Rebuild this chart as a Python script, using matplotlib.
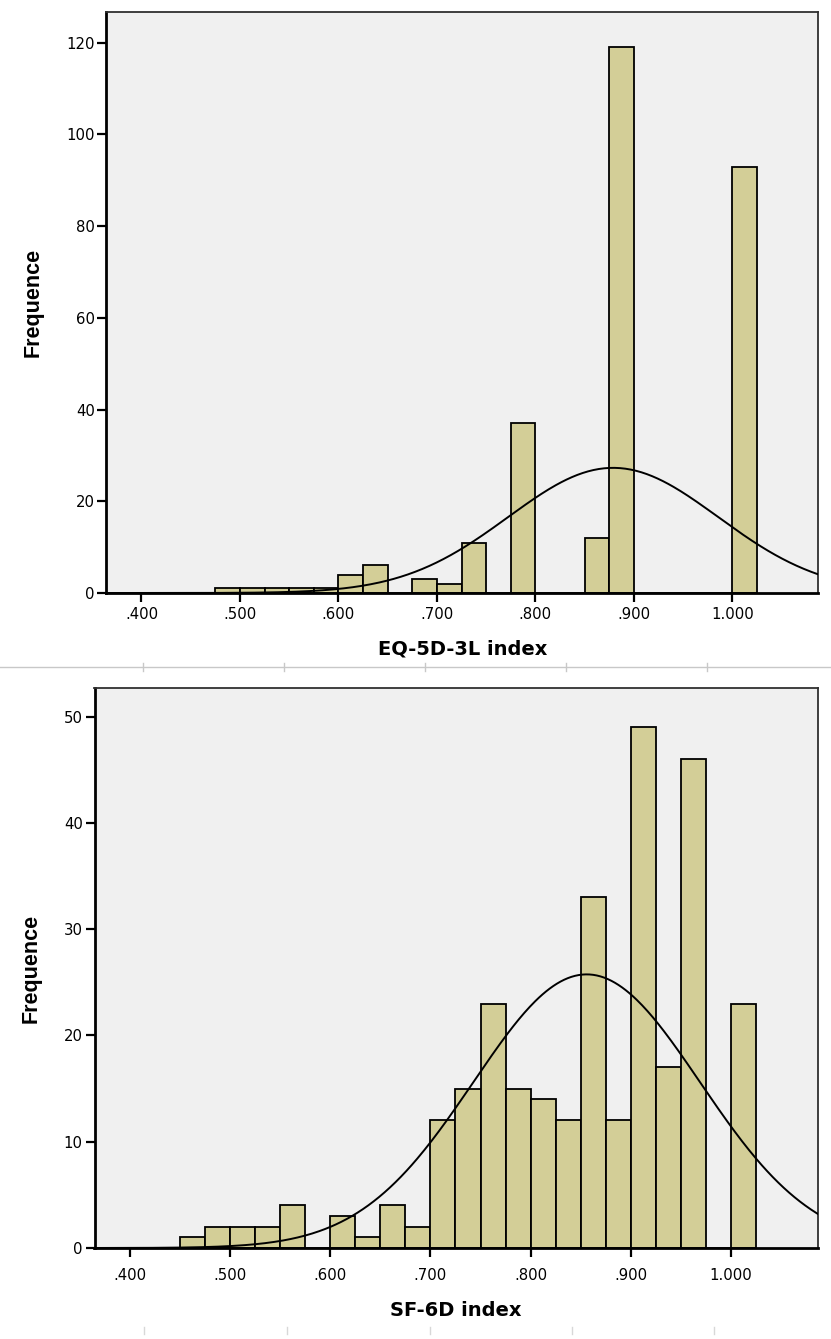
import matplotlib.pyplot as plt
import numpy as np

# EQ-5D-3L: левые границы интервалов и частоты
eq_bins = [0.475, 0.500, 0.525, 0.550, 0.575, 0.600, 0.625, 0.650, 0.675, 0.700, 0.725,
           0.750, 0.775, 0.800, 0.825, 0.850, 0.875, 0.900, 0.925, 0.950, 0.975, 1.000]
eq_counts = [1, 1, 1, 1, 1, 4, 6, 0, 3, 2, 11,
             0, 37, 0, 0, 12, 119, 0, 0, 0, 0, 93]
eq_mean, eq_sd = 0.879, 0.1067

# SF-6D
sf_bins = [0.450, 0.475, 0.500, 0.525, 0.550, 0.575, 0.600, 0.625, 0.650, 0.675, 0.700, 0.725,
           0.750, 0.775, 0.800, 0.825, 0.850, 0.875, 0.900, 0.925, 0.950, 0.975, 1.000]
sf_counts = [1, 2, 2, 2, 4, 0, 3, 1, 4, 2, 12, 15,
             23, 15, 14, 12, 33, 12, 49, 17, 46, 0, 23]
sf_mean, sf_sd = 0.856, 0.1131

bin_width = 0.025
x_ticks = [0.4, 0.5, 0.6, 0.7, 0.8, 0.9, 1.0]
x_tick_labels = ['.400', '.500', '.600', '.700', '.800', '.900', '1.000']

W, H = 831, 1339
plt.rcParams['font.family'] = ['DejaVu Sans']
fig = plt.figure(figsize=(W / 100, H / 100), dpi=100)


def px_box(left, top, right, bottom):
    return [left / W, 1 - bottom / H, (right - left) / W, (bottom - top) / H]


def draw_hist(ax, bins, counts, mean, sd, ylim, yticks, xlabel, xlabel_y, ylabel_x, xpad):
    ax.set_facecolor('#F0F0F0')
    ax.bar(bins, counts, width=bin_width, align='edge', color='#D3CE97',
           edgecolor='black', linewidth=1.3, zorder=2)

    # нормальная кривая
    x = np.linspace(0.3645, 1.087, 400)
    n = sum(counts)
    y = n * bin_width / (sd * np.sqrt(2 * np.pi)) * np.exp(-(x - mean) ** 2 / (2 * sd ** 2))
    ax.plot(x, y, color='black', linewidth=1.4, zorder=3)

    ax.set_xlim(0.3645, 1.087)
    ax.set_ylim(*ylim)
    ax.set_xticks(x_ticks)
    ax.set_xticklabels(x_tick_labels)
    ax.set_yticks(yticks)
    ax.tick_params(axis='both', direction='out', length=6.5, width=1.6,
                   labelsize=10.7, color='black')
    ax.tick_params(axis='x', pad=xpad)
    ax.tick_params(axis='y', pad=2)

    for side in ['left', 'bottom']:
        ax.spines[side].set_linewidth(2)
        ax.spines[side].set_color('black')
    for side in ['top', 'right']:
        ax.spines[side].set_linewidth(1.3)
        ax.spines[side].set_color('#303030')

    ax.set_xlabel(xlabel, fontsize=14, fontweight='bold')
    ax.xaxis.set_label_coords(0.5, xlabel_y)
    ax.set_ylabel('Frequence', fontsize=15.5, fontweight='bold',
                  family=['Liberation Sans', 'DejaVu Sans'])
    ax.yaxis.set_label_coords(ylabel_x, 0.5)


ax1 = fig.add_axes(px_box(106.5, 12.5, 818, 593))
draw_hist(ax1, eq_bins, eq_counts, eq_mean, eq_sd, (0, 126.6),
          [0, 20, 40, 60, 80, 100, 120], 'EQ-5D-3L index', -0.080, -0.088, 3.5)

ax2 = fig.add_axes(px_box(94.5, 688, 818, 1248))
draw_hist(ax2, sf_bins, sf_counts, sf_mean, sf_sd, (0, 52.7),
          [0, 10, 20, 30, 40, 50], 'SF-6D index', -0.094, -0.0726, 8)

# разделитель между графиками
fig.add_artist(plt.Line2D([0, 1], [1 - 667 / H] * 2, transform=fig.transFigure,
                          color='#C8C8C8', linewidth=1))
for mx in [143, 284, 425, 566, 707]:
    fig.add_artist(plt.Line2D([mx / W] * 2, [1 - 663 / H, 1 - 671 / H],
                              transform=fig.transFigure, color='#C8C8C8', linewidth=1))
for mx in [144, 287, 430, 572, 714]:
    fig.add_artist(plt.Line2D([mx / W] * 2, [1 - 1327 / H, 1 - 1334 / H],
                              transform=fig.transFigure, color='#D8D8D8', linewidth=1))

plt.savefig('out.png', dpi=100)
